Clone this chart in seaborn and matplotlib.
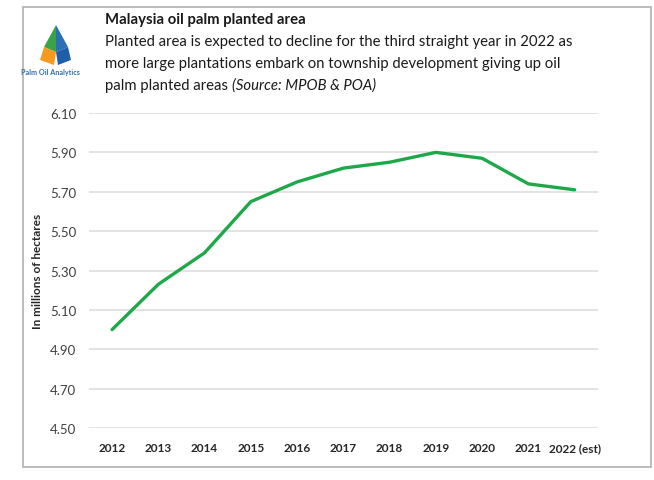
import matplotlib
matplotlib.use("Agg")
import matplotlib.pyplot as plt
import seaborn as sns
import pandas as pd
from matplotlib.patches import Rectangle, Polygon

years = ["2012", "2013", "2014", "2015", "2016", "2017", "2018", "2019", "2020", "2021", "2022 (est)"]
area = [5.00, 5.23, 5.39, 5.65, 5.75, 5.82, 5.85, 5.90, 5.87, 5.74, 5.71]
yticks = [4.50, 4.70, 4.90, 5.10, 5.30, 5.50, 5.70, 5.90, 6.10]

title = "Malaysia oil palm planted area"
subtitle_lines = [
    "Planted area is expected to decline for the third straight year in 2022 as",
    "more large plantations embark on township development giving up oil",
]
last_line = "palm planted areas "
source = "(Source: MPOB & POA)"

sns.set_theme(style="white")
plt.rcParams["font.family"] = ["Lato", "DejaVu Sans"]

df = pd.DataFrame({"year": years, "area": area})

fig = plt.figure(figsize=(6.54, 4.81), dpi=100)
ax = fig.add_axes([0.136, 0.108, 0.778, 0.655])

sns.lineplot(data=df, x="year", y="area", ax=ax, color="#1fa84a", linewidth=2.4, sort=False)

ax.set_xlim(-0.5, len(years) - 0.5)
ax.set_ylim(4.50, 6.10)
ax.set_yticks(yticks)
ax.set_yticklabels([f"{v:.2f}" for v in yticks], color="#404040", fontsize=9.5)
ax.set_xticks(range(len(years)))
ax.set_xticklabels(years, fontweight="bold", fontsize=8.5, color="#262626")
ax.tick_params(axis="both", length=0)
ax.tick_params(axis="x", pad=10)
ax.tick_params(axis="y", pad=9)
ax.grid(axis="y", color="#e0e0e0", linewidth=1.3)
ax.set_axisbelow(True)
for s in ax.spines.values():
    s.set_visible(False)
ax.set_xlabel("")
ax.set_ylabel("In millions of hectares", fontweight="bold", fontsize=8.5, color="#262626", labelpad=5)

# border box
fig.patches.append(Rectangle((23 / 654, 1 - 468 / 481), (651 - 23) / 654, (468 - 8) / 481,
                             transform=fig.transFigure, fill=False, edgecolor="#b0b0b0", linewidth=1.2))

# titles
fs = 10.7
fig.text(105 / 654, 1 - 20 / 481, title, fontsize=fs, fontweight="bold", color="#1a1a1a", va="center")
for i, line in enumerate(subtitle_lines):
    fig.text(105 / 654, 1 - (42 + 22 * i) / 481, line, fontsize=fs, color="#1a1a1a", va="center")
t = fig.text(105 / 654, 1 - 86 / 481, last_line, fontsize=fs, color="#1a1a1a", va="center")
fig.canvas.draw()
bb = t.get_window_extent()
fig.text(bb.x1 / fig.bbox.width, 1 - 86 / 481, source, fontsize=fs, style="italic", color="#1a1a1a", va="center")

# logo
def P(pts, c):
    fig.patches.append(Polygon([(x / 654, 1 - y / 481) for x, y in pts], closed=True,
                               transform=fig.transFigure, facecolor=c, edgecolor="none"))
P([(56, 26), (44, 48), (56, 53)], "#3aa34a")
P([(56, 26), (68, 48), (56, 53)], "#2d6fb7")
P([(44, 48), (56, 53), (54, 66), (40, 61)], "#f39a1f")
P([(68, 48), (56, 53), (58, 66), (71, 61)], "#1f5fa8")
fig.text(50 / 654, 1 - 72 / 481, "Palm Oil Analytics", fontsize=5.2, color="#2d6fb7",
         ha="center", va="center", fontweight="bold")

fig.savefig("out.png", dpi=100)
